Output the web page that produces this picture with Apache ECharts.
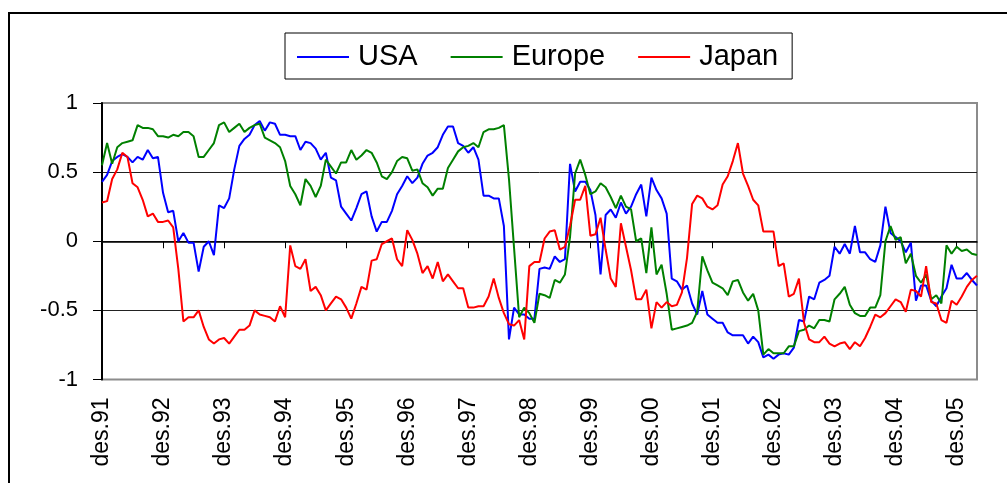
<!DOCTYPE html>
<html lang="no" style="height: 100%">

<head>
  <meta charset="utf-8">
</head>

<body style="height: 100%; margin: 0; background: #fff">
  <div id="container" style="width: 1007px; height: 483px"></div>

  <script type="text/javascript" src="https://cdn.jsdelivr.net/npm/echarts@6/dist/echarts.min.js"></script>

  <script type="text/javascript">
    // monthly labels des.91 .. apr.06
    var monthNames = ['jan', 'feb', 'mar', 'apr', 'mai', 'jun', 'jul', 'aug', 'sep', 'okt', 'nov', 'des'];
    var years = ['92', '93', '94', '95', '96', '97', '98', '99', '00', '01', '02', '03', '04', '05', '06'];
    var lastMonths = 4; // data ends apr.06

    var categories = ['des.91'];
    years.forEach(function (y, k) {
      var n = k === years.length - 1 ? lastMonths : 12;
      for (var m = 0; m < n; m++) categories.push(monthNames[m] + '.' + y);
    });

    var usa = [
      0.43, 0.48, 0.58, 0.61, 0.63, 0.61, 0.57, 0.61, 0.59, 0.66,
      0.60, 0.61, 0.35, 0.21, 0.22, 0.00, 0.06, -0.01, -0.01, -0.22,
      -0.04, 0.00, -0.10, 0.26, 0.24, 0.31, 0.52, 0.69, 0.74, 0.77,
      0.84, 0.87, 0.80, 0.86, 0.85, 0.77, 0.77, 0.76, 0.76, 0.66,
      0.72, 0.71, 0.67, 0.59, 0.64, 0.46, 0.44, 0.25, 0.20, 0.15,
      0.24, 0.34, 0.36, 0.18, 0.07, 0.14, 0.14, 0.22, 0.34, 0.40,
      0.47, 0.42, 0.46, 0.56, 0.62, 0.64, 0.68, 0.77, 0.83, 0.83,
      0.71, 0.69, 0.64, 0.68, 0.59, 0.33, 0.33, 0.31, 0.31, 0.11,
      -0.71, -0.48, -0.53, -0.53, -0.56, -0.56, -0.20, -0.19, -0.20, -0.11,
      -0.15, -0.13, 0.56, 0.36, 0.43, 0.43, 0.37, 0.19, -0.24, 0.19,
      0.23, 0.17, 0.28, 0.20, 0.25, 0.34, 0.41, 0.18, 0.46, 0.37,
      0.31, 0.20, -0.27, -0.29, -0.35, -0.32, -0.45, -0.53, -0.36, -0.53,
      -0.56, -0.59, -0.59, -0.66, -0.68, -0.68, -0.68, -0.74, -0.69, -0.73,
      -0.84, -0.82, -0.85, -0.82, -0.81, -0.82, -0.77, -0.57, -0.58, -0.40,
      -0.42, -0.30, -0.28, -0.25, -0.04, -0.09, -0.02, -0.09, 0.11, -0.08,
      -0.08, -0.13, -0.15, -0.03, 0.25, 0.06, 0.03, 0.00, -0.08, -0.01,
      -0.43, -0.32, -0.32, -0.43, -0.47, -0.40, -0.34, -0.17, -0.27, -0.27,
      -0.23, -0.28, -0.32
    ];

    var europe = [
      0.55, 0.71, 0.56, 0.68, 0.71, 0.72, 0.73, 0.84, 0.82, 0.82,
      0.81, 0.76, 0.76, 0.75, 0.77, 0.76, 0.79, 0.79, 0.76, 0.61,
      0.61, 0.66, 0.71, 0.84, 0.86, 0.79, 0.82, 0.85, 0.79, 0.82,
      0.84, 0.85, 0.75, 0.73, 0.71, 0.68, 0.58, 0.40, 0.34, 0.26,
      0.45, 0.40, 0.32, 0.40, 0.59, 0.54, 0.49, 0.57, 0.57, 0.66,
      0.59, 0.62, 0.66, 0.64, 0.57, 0.47, 0.45, 0.50, 0.58, 0.61,
      0.60, 0.51, 0.52, 0.42, 0.39, 0.33, 0.38, 0.38, 0.53, 0.59,
      0.65, 0.68, 0.69, 0.71, 0.68, 0.79, 0.81, 0.81, 0.82, 0.84,
      0.45, -0.05, -0.55, -0.48, -0.52, -0.59, -0.38, -0.39, -0.41, -0.28,
      -0.30, -0.24, 0.03, 0.49, 0.59, 0.48, 0.34, 0.36, 0.42, 0.39,
      0.32, 0.24, 0.33, 0.25, 0.23, 0.00, 0.02, -0.23, 0.10, -0.24,
      -0.17, -0.38, -0.64, -0.63, -0.62, -0.61, -0.59, -0.51, -0.11, -0.21,
      -0.30, -0.32, -0.34, -0.39, -0.29, -0.28, -0.37, -0.43, -0.38, -0.50,
      -0.82, -0.78, -0.81, -0.81, -0.81, -0.76, -0.76, -0.65, -0.64, -0.61,
      -0.63, -0.57, -0.57, -0.58, -0.42, -0.38, -0.33, -0.46, -0.52, -0.54,
      -0.54, -0.48, -0.48, -0.39, 0.00, 0.11, 0.01, 0.03, -0.16, -0.09,
      -0.25, -0.30, -0.24, -0.42, -0.39, -0.45, -0.03, -0.09, -0.04, -0.07,
      -0.06, -0.09, -0.10
    ];

    var japan = [
      0.28, 0.29, 0.45, 0.52, 0.64, 0.61, 0.42, 0.39, 0.30, 0.18,
      0.20, 0.14, 0.14, 0.15, 0.10, -0.20, -0.58, -0.55, -0.55, -0.50,
      -0.62, -0.71, -0.74, -0.71, -0.70, -0.74, -0.69, -0.64, -0.64, -0.61,
      -0.50, -0.53, -0.54, -0.55, -0.58, -0.47, -0.55, -0.03, -0.18, -0.20,
      -0.13, -0.36, -0.33, -0.39, -0.50, -0.45, -0.40, -0.42, -0.48, -0.56,
      -0.45, -0.33, -0.35, -0.14, -0.13, -0.02, 0.00, 0.02, -0.13, -0.18,
      0.08, 0.01, -0.09, -0.23, -0.18, -0.27, -0.15, -0.29, -0.24, -0.29,
      -0.34, -0.34, -0.48, -0.48, -0.47, -0.47, -0.40, -0.27, -0.41, -0.52,
      -0.60, -0.61, -0.57, -0.71, -0.18, -0.15, -0.15, 0.02, 0.07, 0.08,
      -0.06, -0.04, 0.11, 0.30, 0.30, 0.40, 0.04, 0.05, 0.17, -0.06,
      -0.27, -0.33, 0.13, -0.04, -0.21, -0.42, -0.42, -0.35, -0.63, -0.44,
      -0.48, -0.44, -0.47, -0.46, -0.37, -0.12, 0.27, 0.33, 0.31, 0.25,
      0.23, 0.26, 0.41, 0.47, 0.58, 0.71, 0.49, 0.40, 0.30, 0.26,
      0.07, 0.07, 0.07, -0.18, -0.16, -0.40, -0.38, -0.27, -0.59, -0.71,
      -0.73, -0.73, -0.69, -0.74, -0.76, -0.74, -0.73, -0.78, -0.73, -0.76,
      -0.70, -0.62, -0.53, -0.55, -0.52, -0.47, -0.42, -0.44, -0.51, -0.35,
      -0.36, -0.40, -0.18, -0.44, -0.45, -0.57, -0.59, -0.43, -0.46, -0.40,
      -0.33, -0.28, -0.25
    ];

    var seriesNames = ['USA', 'Europe', 'Japan'];
    var seriesColors = ['#0000ff', '#008000', '#ff0000'];
    var yTicks = [-1, -0.5, 0, 0.5, 1];

    var dom = document.getElementById('container');
    var myChart = echarts.init(dom, null, { renderer: 'canvas' });

    var option = {
      animation: false,
      backgroundColor: '#ffffff',
      textStyle: { fontFamily: 'Liberation Sans, Arial, sans-serif', color: '#000' },
      // outer chart frame
      graphic: [{
        type: 'rect',
        silent: true,
        shape: { x: 9, y: 13, width: 1100, height: 600 },
        style: { fill: 'none', stroke: '#000', lineWidth: 2 }
      }],
      legend: {
        left: 285,
        top: 33,
        padding: [9, 14, 7, 12],
        itemGap: 33,
        itemWidth: 52,
        itemHeight: 2,
        icon: 'rect',
        borderColor: '#000',
        borderWidth: 1,
        textStyle: { fontSize: 29, color: '#000', lineHeight: 30, padding: [0, 0, 0, 4] },
        data: seriesNames
      },
      grid: {
        left: 102,
        right: 30,
        top: 103,
        bottom: 103.5,
        show: true,
        borderColor: '#8c8c8c',
        borderWidth: 2
      },
      xAxis: [
        {
          // labels at the bottom
          type: 'category',
          data: categories,
          boundaryGap: false,
          position: 'bottom',
          axisLine: { show: false, onZero: false },
          axisTick: { show: false },
          splitLine: { show: false },
          axisLabel: { interval: 11, rotate: 90, fontSize: 23, color: '#000', margin: 18 }
        },
        {
          // axis line + ticks crossing at zero
          type: 'category',
          data: categories,
          boundaryGap: false,
          position: 'bottom',
          axisLine: { show: true, onZero: true, lineStyle: { color: '#000', width: 1.5 } },
          axisTick: { show: true, interval: 11, length: 7, lineStyle: { color: '#000', width: 1 } },
          axisLabel: { show: false },
          splitLine: { show: false }
        }
      ],
      yAxis: {
        type: 'value',
        min: yTicks[0],
        max: yTicks[yTicks.length - 1],
        interval: 0.5,
        axisLine: { show: true, onZero: false, lineStyle: { color: '#000', width: 2 } },
        axisTick: { show: true, length: 9, lineStyle: { color: '#000', width: 1 } },
        axisLabel: { fontSize: 22, color: '#000', margin: 24 },
        splitLine: { show: true, showMinLine: false, showMaxLine: false, lineStyle: { color: '#222', width: 1 } }
      },
      series: [usa, europe, japan].map(function (d, k) {
        return {
          name: seriesNames[k],
          type: 'line',
          xAxisIndex: 0,
          data: d,
          symbol: 'none',
          color: seriesColors[k],
          lineStyle: { width: 2, color: seriesColors[k] }
        };
      })
    };

    myChart.setOption(option);
    window.addEventListener('resize', myChart.resize);
  </script>
</body>

</html>
